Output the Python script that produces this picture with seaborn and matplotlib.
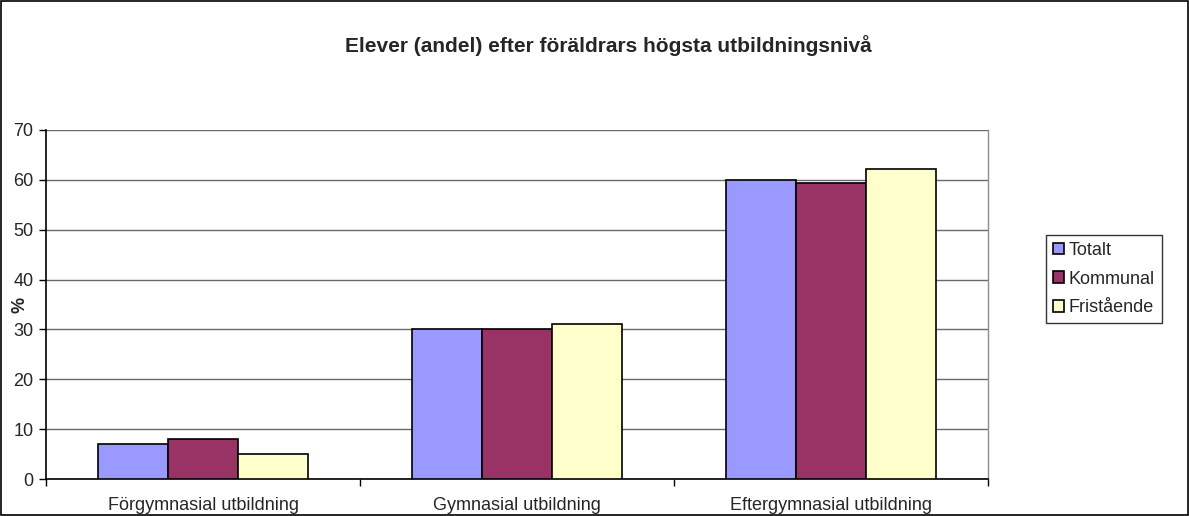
import pandas as pd
import matplotlib.pyplot as plt
import matplotlib.patches as mpatches
import seaborn as sns

# data
categories = ["Förgymnasial utbildning", "Gymnasial utbildning", "Eftergymnasial utbildning"]
groups = ["Totalt", "Kommunal", "Fristående"]
totalt = [7, 30, 60]
kommunal = [8, 30, 59.3]
fristaende = [5, 31, 62.1]
colors = ["#9999FF", "#993366", "#FFFFCC"]

df = pd.DataFrame({
    "kategori": categories * 3,
    "grupp": [g for g in groups for _ in categories],
    "andel": totalt + kommunal + fristaende,
})

sns.set_style("white")
plt.rcParams["font.family"] = ["Liberation Sans", "DejaVu Sans"]

fig = plt.figure(figsize=(11.89, 5.16), dpi=100)
ax = fig.add_axes([46 / 1189, 1 - 479 / 516, (988 - 46) / 1189, (479 - 130) / 516])

sns.barplot(data=df, x="kategori", y="andel", hue="grupp", order=categories,
            hue_order=groups, palette=colors, width=0.667, gap=0,
            edgecolor="black", linewidth=1.2, saturation=1, ax=ax, zorder=3)

ax.set_ylim(0, 70)
ax.set_xlim(-0.5, 2.5)
ax.set_yticks(range(0, 71, 10))
ax.yaxis.grid(True, color="#6a6a6a", linewidth=1, zorder=0)
ax.set_axisbelow(True)
ax.tick_params(axis="y", length=5, width=1, color="black", labelsize=13, pad=4, direction="out", left=True)
ax.tick_params(axis="x", which="major", length=0, labelsize=13, pad=13)
ax.set_xticks([-0.5, 0.5, 1.5, 2.5], minor=True)
ax.tick_params(axis="x", which="minor", length=5, width=1, color="black", direction="out", bottom=True)
ax.set_xlabel("")
ax.set_ylabel("%", fontsize=13, fontweight="bold")
ax.yaxis.set_label_coords((28 - 46) / 942, 0.5)

for s in ["left", "bottom"]:
    ax.spines[s].set_color("black")
    ax.spines[s].set_linewidth(1.2)
ax.spines["right"].set_color("#8c8c8c")
ax.spines["right"].set_linewidth(1)
ax.spines["top"].set_visible(False)

handles, labels = ax.get_legend_handles_labels()
ax.legend_.remove()
fig.legend(handles, labels, loc="center left", bbox_to_anchor=(1046 / 1189, 1 - 279 / 516),
           frameon=True, fancybox=False, edgecolor="black", fontsize=13,
           handlelength=0.6, handleheight=0.6, handletextpad=0.25,
           labelspacing=0.65, borderpad=0.4, borderaxespad=0)

fig.text(608 / 1189, 1 - 46 / 516, "Elever (andel) efter föräldrars högsta utbildningsnivå",
         ha="center", va="center", fontsize=15, fontweight="bold")

fig.patches.append(mpatches.Rectangle((0.0005, 0.001), 0.999, 0.998, transform=fig.transFigure,
                                      fill=False, edgecolor="black", linewidth=1.2))

fig.savefig("out.png", dpi=100)
